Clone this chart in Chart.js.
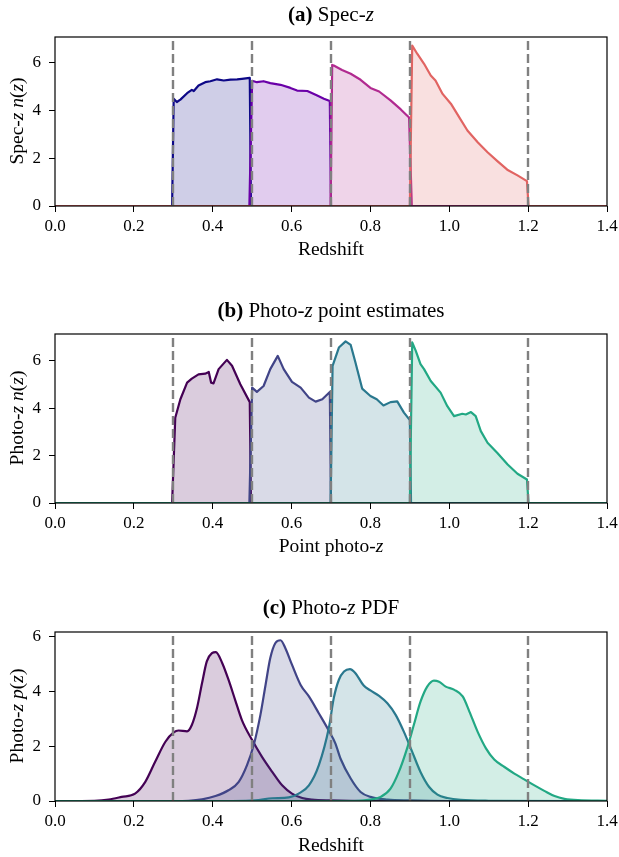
<!DOCTYPE html>
<html><head><meta charset="utf-8">
<script src="https://cdn.jsdelivr.net/npm/chart.js@4.4.0/dist/chart.umd.min.js"></script>
<style>
html,body{margin:0;padding:0;background:#fff;}
#page{position:relative;width:619px;height:857px;overflow:hidden;font-family:"Liberation Serif",serif;color:#000;background:#fff;}
canvas{position:absolute;left:0;}
.t{position:absolute;white-space:nowrap;transform:translate(-50%,-50%);line-height:1;}
.title{font-size:21px;}
.xl{font-size:19.5px;}
.yl{font-size:19.5px;transform:translate(-50%,-50%) rotate(-90deg);}
i{font-style:italic;}
</style></head>
<body><div id="page">
<canvas id="cA" width="619" height="246" style="top:0px"></canvas>
<canvas id="cB" width="619" height="253" style="top:290px"></canvas>
<canvas id="cC" width="619" height="251" style="top:590px"></canvas>

<div class="t title" style="left:331px;top:14px"><b>(a)</b> Spec-<i>z</i></div>
<div class="t xl" style="left:331px;top:249px">Redshift</div>
<div class="t yl" style="left:17px;top:121px">Spec-<i>z</i> <i>n</i>(<i>z</i>)</div>

<div class="t title" style="left:331px;top:310px"><b>(b)</b> Photo-<i>z</i> point estimates</div>
<div class="t xl" style="left:331px;top:546px">Point photo-<i>z</i></div>
<div class="t yl" style="left:17px;top:418px">Photo-<i>z</i> <i>n</i>(<i>z</i>)</div>

<div class="t title" style="left:331px;top:607px"><b>(c)</b> Photo-<i>z</i> PDF</div>
<div class="t xl" style="left:331px;top:845px">Redshift</div>
<div class="t yl" style="left:17px;top:716px">Photo-<i>z</i> <i>p</i>(<i>z</i>)</div>
</div>
<script>
// ---------- data ----------
const xTicks = [0, 0.2, 0.4, 0.6, 0.8, 1.0, 1.2, 1.4];
const yTicks = [0, 2, 4, 6];
const binEdges = [0.3, 0.5, 0.7, 0.9, 1.2];

// (a) Spec-z n(z)
const zA1 = [0, 0.297, 0.301, 0.309, 0.318, 0.335, 0.347, 0.352, 0.364, 0.381, 0.394, 0.411, 0.428, 0.445, 0.462, 0.474, 0.494, 0.497, 1.4];
const nA1 = [0, 0, 4.49, 4.35, 4.45, 4.72, 4.86, 4.81, 5.04, 5.18, 5.22, 5.30, 5.25, 5.29, 5.30, 5.32, 5.36, 0, 0];
const zA2 = [0, 0.493, 0.500, 0.512, 0.529, 0.546, 0.572, 0.597, 0.614, 0.640, 0.665, 0.682, 0.697, 0.700, 1.4];
const nA2 = [0, 0, 5.24, 5.18, 5.22, 5.14, 5.07, 4.94, 4.83, 4.81, 4.62, 4.49, 4.39, 0, 0];
const zA3 = [0, 0.699, 0.703, 0.707, 0.728, 0.750, 0.775, 0.800, 0.822, 0.851, 0.877, 0.898, 0.905, 1.4];
const nA3 = [0, 0, 5.90, 5.88, 5.69, 5.53, 5.28, 4.94, 4.79, 4.42, 4.04, 3.70, 0, 0];
const zA4 = [0, 0.900, 0.906, 0.919, 0.936, 0.953, 0.965, 0.983, 1.004, 1.025, 1.046, 1.072, 1.097, 1.122, 1.147, 1.173, 1.197, 1.201, 1.4];
const nA4 = [0, 0, 6.71, 6.36, 5.95, 5.46, 5.25, 4.69, 4.28, 3.72, 3.16, 2.67, 2.25, 1.88, 1.52, 1.28, 1.04, 0, 0];

// (b) Photo-z point estimates n(z)
const zB1 = [0, 0.297, 0.305, 0.318, 0.335, 0.347, 0.364, 0.381, 0.390, 0.396, 0.402, 0.415, 0.436, 0.449, 0.470, 0.494, 0.497, 1.4];
const nB1 = [0, 0, 3.59, 4.37, 5.07, 5.24, 5.42, 5.45, 5.52, 5.07, 5.04, 5.64, 6.03, 5.78, 5.00, 4.25, 0, 0];
const zB2 = [0, 0.493, 0.500, 0.512, 0.529, 0.546, 0.565, 0.580, 0.601, 0.623, 0.644, 0.661, 0.678, 0.697, 0.700, 1.4];
const nB2 = [0, 0, 4.86, 4.68, 4.93, 5.64, 6.20, 5.64, 5.10, 4.86, 4.44, 4.27, 4.37, 4.68, 0, 0];
const zB3 = [0, 0.699, 0.704, 0.720, 0.737, 0.750, 0.762, 0.779, 0.800, 0.816, 0.833, 0.851, 0.868, 0.885, 0.900, 0.903, 1.4];
const nB3 = [0, 0, 5.78, 6.55, 6.81, 6.66, 5.92, 4.82, 4.51, 4.37, 4.11, 4.25, 4.28, 3.81, 3.49, 0, 0];
const zB4 = [0, 0.900, 0.906, 0.915, 0.927, 0.936, 0.953, 0.978, 0.995, 1.012, 1.033, 1.042, 1.055, 1.067, 1.080, 1.097, 1.122, 1.148, 1.173, 1.197, 1.201, 1.4];
const nB4 = [0, 0, 6.77, 6.41, 5.85, 5.64, 5.14, 4.65, 4.08, 3.66, 3.76, 3.73, 3.83, 3.66, 3.03, 2.54, 2.11, 1.62, 1.23, 0.99, 0, 0];

// (c) Photo-z PDF p(z)
const zC1 = [0, 0.10, 0.136, 0.169, 0.203, 0.229, 0.254, 0.280, 0.301, 0.313, 0.335, 0.347, 0.360, 0.373, 0.385, 0.398, 0.408, 0.424, 0.440, 0.457, 0.474, 0.500, 0.525, 0.551, 0.576, 0.601, 0.627, 0.652, 0.70, 0.80, 1.4];
const pC1 = [0, 0.01, 0.05, 0.15, 0.27, 0.70, 1.43, 2.16, 2.50, 2.57, 2.54, 2.77, 3.38, 4.30, 5.09, 5.39, 5.43, 5.03, 4.42, 3.68, 2.95, 2.22, 1.61, 1.06, 0.57, 0.27, 0.11, 0.05, 0.02, 0, 0];
const zC2 = [0, 0.30, 0.339, 0.373, 0.407, 0.440, 0.466, 0.487, 0.504, 0.521, 0.534, 0.546, 0.559, 0.572, 0.584, 0.601, 0.623, 0.644, 0.669, 0.695, 0.711, 0.724, 0.750, 0.775, 0.800, 0.843, 0.90, 1.0, 1.4];
const pC2 = [0, 0, 0.01, 0.06, 0.18, 0.39, 0.70, 1.31, 2.04, 3.14, 4.23, 5.21, 5.76, 5.86, 5.58, 4.97, 4.23, 3.81, 3.20, 2.55, 2.10, 1.55, 0.82, 0.33, 0.15, 0.05, 0.02, 0, 0];
const zC3 = [0, 0.45, 0.508, 0.551, 0.593, 0.618, 0.644, 0.669, 0.695, 0.707, 0.720, 0.733, 0.748, 0.762, 0.783, 0.800, 0.822, 0.843, 0.864, 0.885, 0.906, 0.927, 0.949, 0.970, 0.995, 1.029, 1.10, 1.4];
const pC3 = [0, 0, 0.02, 0.10, 0.13, 0.27, 0.57, 1.30, 2.70, 3.75, 4.42, 4.72, 4.81, 4.66, 4.21, 4.03, 3.83, 3.56, 3.14, 2.52, 1.79, 1.06, 0.51, 0.23, 0.11, 0.04, 0.01, 0];
const zC4 = [0, 0.758, 0.800, 0.826, 0.851, 0.872, 0.893, 0.910, 0.927, 0.944, 0.961, 0.974, 0.991, 1.013, 1.034, 1.051, 1.072, 1.093, 1.114, 1.140, 1.165, 1.190, 1.216, 1.241, 1.267, 1.292, 1.326, 1.4];
const pC4 = [0, 0, 0.05, 0.15, 0.45, 1.06, 1.92, 2.77, 3.62, 4.17, 4.39, 4.35, 4.17, 4.05, 3.81, 3.26, 2.52, 1.92, 1.51, 1.24, 1.00, 0.79, 0.57, 0.37, 0.18, 0.08, 0.03, 0.01];

const plasmaColors = ['#0d0887', '#6a00a8', '#b12a90', '#e16462'];
const viridisColors = ['#440154', '#414487', '#2a788e', '#22a884'];

// ---------- drawing ----------
const FONT = '"Liberation Serif", serif';
const pts = (xs, ys) => xs.map((x, i) => ({x: x, y: ys[i]}));

const decor = {
  id: 'decor',
  afterDatasetsDraw(chart) {
    const {ctx, chartArea: a, scales: {x}} = chart;
    ctx.save();
    ctx.beginPath();
    ctx.rect(a.left, a.top, a.right - a.left, a.bottom - a.top);
    ctx.clip();
    ctx.strokeStyle = '#808080';
    ctx.lineWidth = 2.4;
    ctx.setLineDash([9, 4]);
    for (const b of binEdges) {
      const px = Math.round(x.getPixelForValue(b));
      ctx.beginPath();
      ctx.moveTo(px, a.bottom);
      ctx.lineTo(px, a.top);
      ctx.stroke();
    }
    ctx.restore();
    ctx.save();
    ctx.strokeStyle = '#000';
    ctx.lineWidth = 1.2;
    ctx.strokeRect(a.left, a.top, a.right - a.left, a.bottom - a.top);
    ctx.restore();
  }
};

const noPad = s => { s.paddingLeft = 0; s.paddingRight = 0; s.paddingTop = 0; s.paddingBottom = 0; };

function makeChart(id, series, colors, ymax, padTop, smooth) {
  const datasets = series.map((s, i) => ({
    data: pts(s[0], s[1]),
    borderColor: colors[i],
    backgroundColor: colors[i] + '33',
    borderWidth: 2.2,
    borderJoinStyle: 'round',
    fill: 'origin',
    pointRadius: 0,
    tension: smooth ? 0.4 : 0,
    cubicInterpolationMode: smooth ? 'monotone' : 'default',
    order: series.length - 1 - i
  }));
  return new Chart(document.getElementById(id), {
    type: 'line',
    data: {datasets},
    options: {
      responsive: false,
      animation: false,
      devicePixelRatio: 1,
      layout: {padding: {top: padTop, left: 0, right: 12, bottom: 0}},
      plugins: {legend: {display: false}, tooltip: {enabled: false}, title: {display: false}},
      scales: {
        x: {
          type: 'linear', min: 0, max: 1.4,
          afterBuildTicks: s => { s.ticks = xTicks.map(v => ({value: v})); },
          afterFit: s => { s.height = 40; noPad(s); },
          ticks: {callback: v => Number(v).toFixed(1), font: {family: FONT, size: 17}, color: '#000', padding: 4, maxRotation: 0, autoSkip: false},
          grid: {drawOnChartArea: false, drawTicks: true, tickLength: 6, tickColor: '#000', tickWidth: 1},
          border: {display: false}
        },
        y: {
          type: 'linear', min: 0, max: ymax,
          afterBuildTicks: s => { s.ticks = yTicks.map(v => ({value: v})); },
          afterFit: s => { s.width = 55; noPad(s); },
          ticks: {callback: v => String(v), font: {family: FONT, size: 17}, color: '#000', padding: 8},
          grid: {drawOnChartArea: false, drawTicks: true, tickLength: 6, tickColor: '#000', tickWidth: 1},
          border: {display: false}
        }
      }
    },
    plugins: [decor]
  });
}

makeChart('cA', [[zA1, nA1], [zA2, nA2], [zA3, nA3], [zA4, nA4]], plasmaColors, 7.07, 37, false);
makeChart('cB', [[zB1, nB1], [zB2, nB2], [zB3, nB3], [zB4, nB4]], viridisColors, 7.12, 44, false);
makeChart('cC', [[zC1, pC1], [zC2, pC2], [zC3, pC3], [zC4, pC4]], viridisColors, 6.16, 42, true);
</script>
</body></html>
